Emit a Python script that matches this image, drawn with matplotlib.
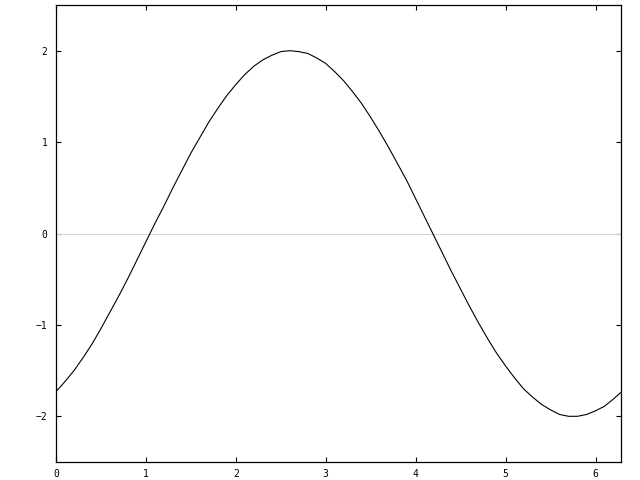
import numpy as np
import matplotlib
matplotlib.use("Agg")
import matplotlib.pyplot as plt

# values
x = [0.0, 0.1, 0.2, 0.3, 0.4, 0.5, 0.6, 0.7, 0.8, 0.9,
     1.0, 1.1, 1.2, 1.3, 1.4, 1.5, 1.6, 1.7, 1.8, 1.9,
     2.0, 2.1, 2.2, 2.3, 2.4, 2.5, 2.6, 2.7, 2.8, 2.9,
     3.0, 3.1, 3.2, 3.3, 3.4, 3.5, 3.6, 3.7, 3.8, 3.9,
     4.0, 4.1, 4.2, 4.3, 4.4, 4.5, 4.6, 4.7, 4.8, 4.9,
     5.0, 5.1, 5.2, 5.3, 5.4, 5.5, 5.6, 5.7, 5.8, 5.9,
     6.0, 6.1, 6.2, 6.28]
y = [-1.73, -1.62, -1.50, -1.36, -1.21, -1.04, -0.86, -0.68, -0.49, -0.29,
     -0.09, 0.11, 0.30, 0.50, 0.69, 0.88, 1.05, 1.22, 1.37, 1.51,
     1.63, 1.74, 1.83, 1.90, 1.95, 1.99, 2.00, 1.99, 1.97, 1.92,
     1.86, 1.77, 1.67, 1.55, 1.42, 1.27, 1.11, 0.94, 0.76, 0.58,
     0.38, 0.18, -0.02, -0.22, -0.42, -0.61, -0.80, -0.98, -1.15, -1.31,
     -1.45, -1.58, -1.70, -1.79, -1.87, -1.93, -1.98, -2.00, -2.00, -1.98,
     -1.94, -1.89, -1.81, -1.74]
xticks = [0, 1, 2, 3, 4, 5, 6]
yticks = [-2, -1, 0, 1, 2]

fig = plt.figure(figsize=(6.4, 4.8), dpi=100)
ax = fig.add_axes([56 / 640, 18 / 480, 565 / 640, 457 / 480])

ax.axhline(0, color="#d3d3d3", linewidth=0.7)
ax.plot(x, y, color="black", linewidth=0.8)

ax.set_xlim(0, 6.2832)
ax.set_ylim(-2.5, 2.5)
ax.set_xticks(xticks)
ax.set_yticks(yticks)
ax.tick_params(direction="in", length=3.6, width=0.8, top=True, right=True,
               labelsize=7)
ax.tick_params(axis="x", pad=5)
ax.tick_params(axis="y", pad=6)
for lab in ax.get_xticklabels() + ax.get_yticklabels():
    lab.set_family("DejaVu Sans Mono")
for s in ax.spines.values():
    s.set_linewidth(0.9)

fig.savefig("out.png", dpi=100)
